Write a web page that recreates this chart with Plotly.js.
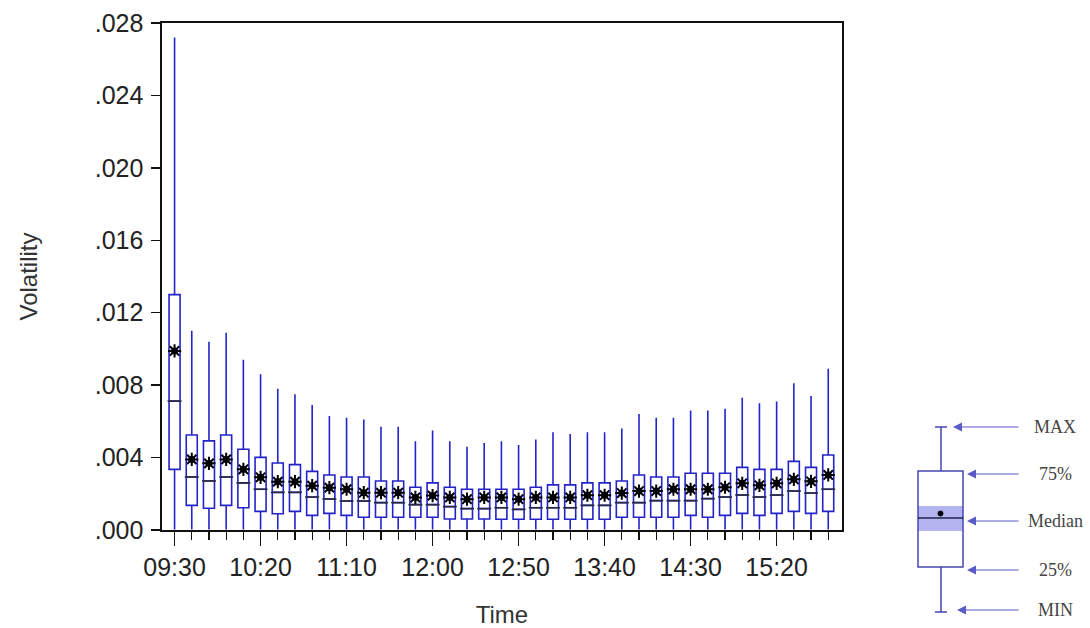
<!DOCTYPE html>
<html>
<head>
<meta charset="utf-8">
<script src="https://cdn.plot.ly/plotly-3.0.1.min.js"></script>
<style>html,body{margin:0;padding:0;background:#fff;}#chart{width:1090px;height:628px;}</style>
</head>
<body>
<div id="chart"></div>
<script>
// ---- data ----
const times = ['09:30','09:40','09:50','10:00','10:10','10:20','10:30','10:40','10:50','11:00',
  '11:10','11:20','11:30','11:40','11:50','12:00','12:10','12:20','12:30','12:40',
  '12:50','13:00','13:10','13:20','13:30','13:40','13:50','14:00','14:10','14:20',
  '14:30','14:40','14:50','15:00','15:10','15:20','15:30','15:40','15:50'];
const maxVals = [0.0272,0.0110,0.0104,0.0109,0.0094,0.0086,0.0078,0.0075,0.0069,0.0063,
  0.0062,0.0061,0.0057,0.0057,0.0049,0.0055,0.0049,0.0046,0.0048,0.0049,
  0.0047,0.0050,0.0054,0.0053,0.0054,0.0054,0.0056,0.0064,0.0062,0.0062,
  0.0066,0.0066,0.0067,0.0073,0.0070,0.0071,0.0081,0.0074,0.0089];
const q3Vals = [0.0130,0.00525,0.00492,0.00525,0.00446,0.00401,0.00370,0.00361,0.00324,0.00304,
  0.00293,0.00293,0.00271,0.00271,0.00236,0.00260,0.00236,0.00225,0.00225,0.00225,
  0.00225,0.00236,0.00249,0.00249,0.00260,0.00260,0.00271,0.00304,0.00293,0.00293,
  0.00313,0.00313,0.00313,0.00346,0.00335,0.00335,0.00379,0.00346,0.00414];
const medianVals = [0.00712,0.00293,0.00271,0.00293,0.00260,0.00225,0.00208,0.00208,0.00182,0.00171,
  0.00160,0.00160,0.00151,0.00151,0.00140,0.00140,0.00129,0.00118,0.00118,0.00123,
  0.00114,0.00123,0.00123,0.00123,0.00136,0.00136,0.00151,0.00151,0.00162,0.00162,
  0.00162,0.00173,0.00182,0.00193,0.00182,0.00193,0.00215,0.00204,0.00225];
const q1Vals = [0.00335,0.00136,0.00120,0.00136,0.00123,0.00103,0.00090,0.00103,0.00081,0.00092,
  0.00081,0.00070,0.00070,0.00070,0.00070,0.00070,0.00061,0.00061,0.00061,0.00059,
  0.00059,0.00059,0.00059,0.00059,0.00059,0.00059,0.00070,0.00070,0.00070,0.00070,
  0.00081,0.00070,0.00081,0.00092,0.00081,0.00092,0.00103,0.00092,0.00103];
const minVals = times.map(() => 0.00003);
const meanVals = [0.00989,0.00390,0.00368,0.00390,0.00335,0.00291,0.00267,0.00267,0.00245,0.00234,
  0.00225,0.00206,0.00206,0.00206,0.00180,0.00190,0.00180,0.00170,0.00180,0.00180,
  0.00170,0.00180,0.00180,0.00180,0.00192,0.00192,0.00204,0.00215,0.00215,0.00225,
  0.00225,0.00225,0.00236,0.00258,0.00247,0.00258,0.00280,0.00269,0.00304];
const xTickLabels = ['09:30','10:20','11:10','12:00','12:50','13:40','14:30','15:20'];
const yTickVals = [0, 0.004, 0.008, 0.012, 0.016, 0.020, 0.024, 0.028];
const yTickText = ['.000','.004','.008','.012','.016','.020','.024','.028'];
const legendLabels = ['MAX','75%','Median','25%','MIN'];

// ---- build ----
const xs = times.map((_, i) => i);
const xTickVals = xTickLabels.map(t => times.indexOf(t));
const boxBlue = '#2323c8';
const FONT = 'Liberation Sans, Arial, sans-serif';

const boxTrace = {
  type: 'box', x: xs,
  q1: q1Vals, median: medianVals, q3: q3Vals,
  lowerfence: minVals, upperfence: maxVals,
  boxpoints: false, boxmean: false,
  width: 0.64, whiskerwidth: 0,
  line: {color: boxBlue, width: 1.6},
  fillcolor: 'rgba(255,255,255,0)',
  hoverinfo: 'skip', showlegend: false
};
const medianTrace = {
  type: 'scatter', mode: 'markers', x: xs, y: medianVals,
  marker: {symbol: 'line-ew-open', size: 10, color: '#2a2a3a', line: {color: '#2a2a3a', width: 1.6}},
  hoverinfo: 'skip', showlegend: false
};
const meanTrace = {
  type: 'scatter', mode: 'markers', x: xs, y: meanVals,
  marker: {symbol: 'asterisk-open', size: 11, color: '#000', line: {color: '#000', width: 2}},
  hoverinfo: 'skip', showlegend: false
};
const meanDot = {
  type: 'scatter', mode: 'markers', x: xs, y: meanVals,
  marker: {symbol: 'circle', size: 7, color: '#000'},
  hoverinfo: 'skip', showlegend: false
};

// inset key, pixel geometry converted to paper coordinates
const L = 162, R = 842, T = 23, B = 530;
const px = x => (x - L) / (R - L);
const py = y => (B - y) / (B - T);
const keyLine = '#4646b0';
const shapes = [
  {type:'rect', xref:'paper', yref:'paper', x0:px(918), x1:px(963), y0:py(506), y1:py(531), fillcolor:'#b4b4f0', line:{width:0}, layer:'above'},
  {type:'rect', xref:'paper', yref:'paper', x0:px(918), x1:px(963), y0:py(471), y1:py(567), fillcolor:'rgba(0,0,0,0)', line:{color:keyLine, width:1.5}},
  {type:'line', xref:'paper', yref:'paper', x0:px(918), x1:px(963), y0:py(518), y1:py(518), line:{color:'#22224a', width:1.5}},
  {type:'line', xref:'paper', yref:'paper', x0:px(941), x1:px(941), y0:py(427), y1:py(471), line:{color:keyLine, width:1.5}},
  {type:'line', xref:'paper', yref:'paper', x0:px(941), x1:px(941), y0:py(567), y1:py(612), line:{color:keyLine, width:1.5}},
  {type:'line', xref:'paper', yref:'paper', x0:px(935), x1:px(947), y0:py(427), y1:py(427), line:{color:keyLine, width:1.5}},
  {type:'line', xref:'paper', yref:'paper', x0:px(935), x1:px(947), y0:py(612), y1:py(612), line:{color:keyLine, width:1.5}},
  {type:'circle', xref:'paper', yref:'paper', x0:px(938), x1:px(943), y0:py(511), y1:py(516), fillcolor:'#000', line:{color:'#000', width:1}}
];
const keyY = [427, 474, 521, 570, 610];
const keyHead = [953, 967, 967, 967, 957];
const annotations = [];
keyY.forEach((yv, i) => {
  annotations.push({xref:'paper', yref:'paper', x:px(keyHead[i]), y:py(yv), text:'', showarrow:true,
    ax:1020 - keyHead[i], ay:0, arrowhead:2, arrowsize:1.5, arrowwidth:1.2, arrowcolor:'#5a5ac8', standoff:0});
  annotations.push({xref:'paper', yref:'paper', x:px(1055), y:py(yv), text:legendLabels[i], showarrow:false,
    xanchor:'center', yanchor:'middle', font:{family:'Liberation Serif, Times New Roman, serif', size:18, color:'#444'}});
});

const layout = {
  width: 1090, height: 628,
  margin: {l: L, r: 1090 - R, t: T, b: 628 - B},
  paper_bgcolor: '#fff', plot_bgcolor: '#fff',
  font: {family: FONT, size: 24, color: '#222'},
  showlegend: false,
  xaxis: {
    range: [-0.73, 38.8], tickmode: 'array', tickvals: xTickVals, ticktext: xTickLabels,
    ticks: 'outside', ticklen: 14, tickwidth: 1.3, tickcolor: '#111',
    minor: {tickmode: 'linear', tick0: 0, dtick: 1, ticks: 'outside', ticklen: 8, tickwidth: 1.2, tickcolor: '#111', showgrid: false},
    showline: true, linecolor: '#111', linewidth: 1.6, mirror: true,
    showgrid: false, zeroline: false, automargin: false,
    tickfont: {size: 25, color: '#222'},
    title: {text: 'Time', standoff: 27, font: {size: 24, color: '#333'}}
  },
  yaxis: {
    range: [0, 0.028], tickmode: 'array', tickvals: yTickVals, ticktext: yTickText,
    ticks: 'outside', ticklen: 9, tickwidth: 1.3, tickcolor: '#111', ticklabelstandoff: 3,
    showline: true, linecolor: '#111', linewidth: 1.6, mirror: true,
    showgrid: false, zeroline: false, automargin: false,
    tickfont: {size: 25, color: '#222'},
    title: {text: 'Volatility', standoff: 50, font: {size: 24, color: '#333'}}
  },
  shapes: shapes,
  annotations: annotations
};

Plotly.newPlot('chart', [boxTrace, medianTrace, meanTrace, meanDot], layout, {displayModeBar: false, staticPlot: true});
</script>
</body>
</html>
